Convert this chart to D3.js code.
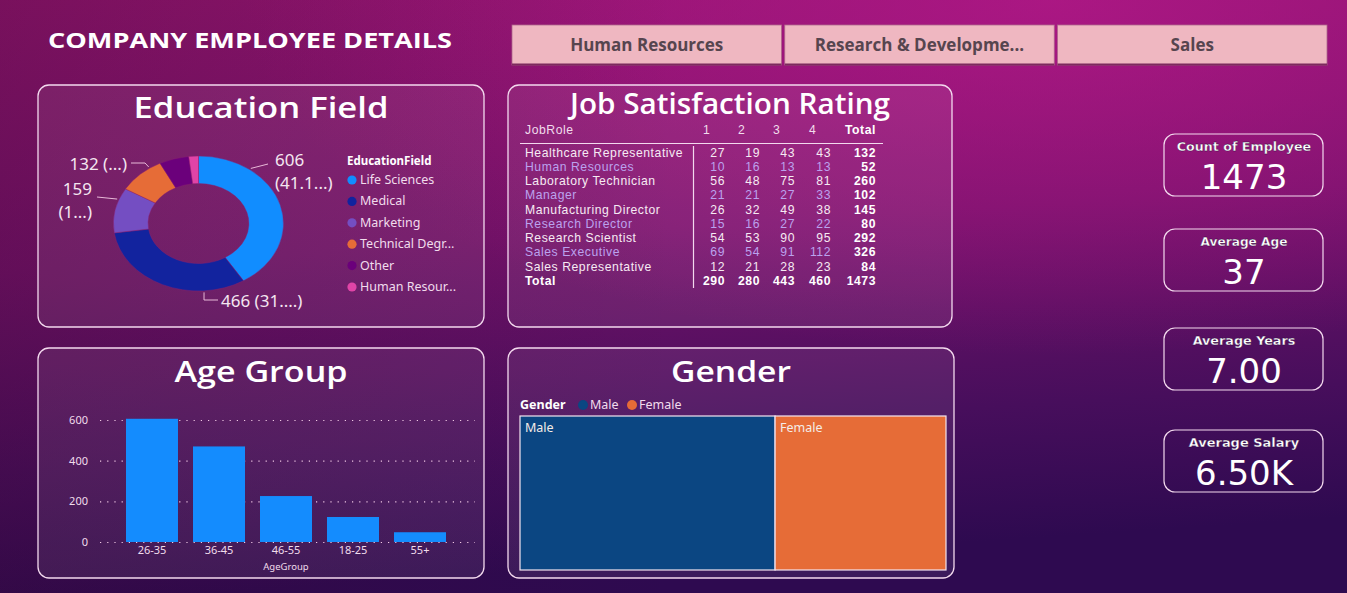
<!DOCTYPE html>
<html>
<head>
<meta charset="utf-8">
<script src="https://cdn.jsdelivr.net/npm/d3@7"></script>
<style>
  html, body { margin: 0; padding: 0; overflow: hidden; }
  svg { display: block; }
</style>
</head>
<body>
<div id="dash"></div>
<script>
// data
var buttons = ["Human Resources", "Research & Developme...", "Sales"];

var eduFields = ["Life Sciences", "Medical", "Marketing", "Technical Degree", "Other", "Human Resources"];
var eduLegend = ["Life Sciences", "Medical", "Marketing", "Technical Degr...", "Other", "Human Resour..."];
var eduCounts = [606, 466, 159, 132, 83, 27];
var eduColors = ["#118dff", "#12239e", "#744ec2", "#e66c37", "#6b007b", "#e044a7"];

var jobRoles = ["Healthcare Representative", "Human Resources", "Laboratory Technician", "Manager",
  "Manufacturing Director", "Research Director", "Research Scientist", "Sales Executive", "Sales Representative"];
var rating1 = [27, 10, 56, 21, 26, 15, 54, 69, 12];
var rating2 = [19, 16, 48, 21, 32, 16, 53, 54, 21];
var rating3 = [43, 13, 75, 27, 49, 27, 90, 91, 28];
var rating4 = [43, 13, 81, 33, 38, 22, 95, 112, 23];
var ratingHeads = ["1", "2", "3", "4", "Total"];

var ageGroups = ["26-35", "36-45", "46-55", "18-25", "55+"];
var ageCounts = [606, 470, 226, 123, 48];
var ageTicks = [0, 200, 400, 600];

var genders = ["Male", "Female"];
var genderCounts = [882, 591];
var genderColors = ["#0b4682", "#e66c37"];

var kpiLabels = ["Count of Employee", "Average Age", "Average Years", "Average Salary"];
var kpiValues = ["1473", "37", "7.00", "6.50K"];

var W = 1347, H = 593;
var titleFont = "'Open Sans', 'Noto Sans', sans-serif";
var bodyFont = "'Noto Sans', 'Open Sans', sans-serif";
var tableFont = "'Liberation Sans', Arial, sans-serif";

var svg = d3.select("#dash").append("svg")
  .attr("width", W)
  .attr("height", H);

var defs = svg.append("defs");

var bg = defs.append("linearGradient").attr("id", "bg")
  .attr("x1", 0).attr("y1", 0).attr("x2", 0.15).attr("y2", 1);
bg.append("stop").attr("offset", "0").attr("stop-color", "#941570");
bg.append("stop").attr("offset", "0.45").attr("stop-color", "#74126a");
bg.append("stop").attr("offset", "0.78").attr("stop-color", "#470e5c");
bg.append("stop").attr("offset", "1").attr("stop-color", "#2e0a50");

var glow = defs.append("radialGradient").attr("id", "glow")
  .attr("cx", 0.78).attr("cy", 0).attr("r", 0.6);
glow.append("stop").attr("offset", "0").attr("stop-color", "#b5188a").attr("stop-opacity", 0.75);
glow.append("stop").attr("offset", "1").attr("stop-color", "#b5188a").attr("stop-opacity", 0);

var shade = defs.append("linearGradient").attr("id", "shade")
  .attr("x1", 0).attr("y1", 0).attr("x2", 1).attr("y2", 0);
shade.append("stop").attr("offset", "0").attr("stop-color", "#3a0630").attr("stop-opacity", 0.3);
shade.append("stop").attr("offset", "0.5").attr("stop-color", "#3a0630").attr("stop-opacity", 0);

svg.append("rect").attr("width", W).attr("height", H).attr("fill", "url(#bg)");
svg.append("rect").attr("width", W).attr("height", H).attr("fill", "url(#glow)");
svg.append("rect").attr("width", W).attr("height", H).attr("fill", "url(#shade)");

// header
svg.append("text")
  .attr("x", 48).attr("y", 48)
  .attr("textLength", 404).attr("lengthAdjust", "spacingAndGlyphs")
  .style("font-family", titleFont).style("font-weight", 700).style("font-size", "22px")
  .attr("fill", "#ffffff")
  .text("COMPANY EMPLOYEE DETAILS");

var btnX = d3.scaleBand().domain(buttons).range([512, 1327]).paddingInner(0.012);
var btn = svg.selectAll(".btn").data(buttons).enter().append("g")
  .attr("class", "btn")
  .attr("transform", function(d) { return "translate(" + btnX(d) + ",25)"; });
btn.append("rect")
  .attr("width", btnX.bandwidth()).attr("height", 40)
  .attr("fill", "#efb7c1").attr("stroke", "#b0668c").attr("stroke-width", 0.8);
btn.append("rect")
  .attr("y", 38.5).attr("width", btnX.bandwidth()).attr("height", 2)
  .attr("fill", "#7d2a5e");
btn.append("text")
  .attr("x", btnX.bandwidth() / 2).attr("y", 26)
  .attr("text-anchor", "middle")
  .style("font-family", titleFont).style("font-weight", 700).style("font-size", "17px")
  .attr("fill", "#56454f")
  .text(function(d) { return d; });

// panels
function panel(x, y, w, h, title, ty, tlen) {
  svg.append("rect")
    .attr("x", x).attr("y", y).attr("width", w).attr("height", h)
    .attr("rx", 11)
    .attr("fill", "#ffffff").attr("fill-opacity", 0.07)
    .attr("stroke", "#f3d9ee").attr("stroke-width", 1.3);
  svg.append("text")
    .attr("x", x + w / 2).attr("y", ty)
    .attr("text-anchor", "middle")
    .attr("textLength", tlen).attr("lengthAdjust", "spacingAndGlyphs")
    .style("font-family", titleFont).style("font-weight", 600).style("font-size", "29px")
    .attr("fill", "#ffffff")
    .text(title);
}
panel(38, 85, 446, 242, "Education Field", 118, 255);
panel(508, 85, 444, 242, "Job Satisfaction Rating", 114, 320);
panel(38, 348, 446, 230, "Age Group", 382, 173);
panel(508, 348, 446, 230, "Gender", 382, 120);

// Education field donut (stretched like the report canvas)
var cx = 198.5, cy = 223.5, sx = 1.26;
var pie = d3.pie().sort(null).value(function(d) { return d; });
var arcs = pie(eduCounts);
var arc = d3.arc().innerRadius(40).outerRadius(67.5);

var donut = svg.append("g")
  .attr("transform", "translate(" + cx + "," + cy + ") scale(" + sx + ",1)");
donut.selectAll("path").data(arcs).enter().append("path")
  .attr("d", arc)
  .attr("fill", function(d, i) { return eduColors[i]; })
  .attr("stroke", "#8a2070").attr("stroke-width", 0.4);

// leader lines and labels for the four largest slices
var total = d3.sum(eduCounts);
function pct(v) { return (v / total * 100).toFixed(1); }
var eduLabels = [
  { i: 0, lines: [String(eduCounts[0]), "(" + pct(eduCounts[0]).slice(0, 4) + "...)"], x: 275, y: 166, anchor: "start", at: 0.25, pts: [[268, 164]] },
  { i: 1, lines: [eduCounts[1] + " (" + pct(eduCounts[1]).slice(0, 2) + "....)"], x: 221, y: 307, anchor: "start", at: 0.248, pts: [[204, 300], [218, 300]] },
  { i: 2, lines: [String(eduCounts[2]), "(" + pct(eduCounts[2]).slice(0, 1) + "...)"], x: 92, y: 195, anchor: "end", at: 0.74, pts: [[97, 197]] },
  { i: 3, lines: [eduCounts[3] + " (...)"], x: 127, y: 170, anchor: "end", at: 0.75, pts: [[145, 163], [131, 163]] }
];
var labelG = svg.append("g");
eduLabels.forEach(function(l) {
  var a = arcs[l.i];
  var ang = a.startAngle + (a.endAngle - a.startAngle) * l.at;
  var r = 69;
  var start = [cx + Math.sin(ang) * r * sx, cy - Math.cos(ang) * r];
  labelG.append("path")
    .attr("d", d3.line()([start].concat(l.pts)))
    .attr("fill", "none").attr("stroke", "#e8b9d8").attr("stroke-width", 1);
  var t = labelG.append("text")
    .attr("text-anchor", l.anchor)
    .style("font-family", bodyFont).style("font-size", "17px")
    .attr("fill", "#f4e6f0");
  l.lines.forEach(function(s, k) {
    t.append("tspan").attr("x", l.x).attr("y", l.y + k * 23).text(s);
  });
});

var legY = d3.scalePoint().domain(eduFields).range([180, 287]);
svg.append("text")
  .attr("x", 347).attr("y", 165)
  .style("font-family", bodyFont).style("font-weight", 700).style("font-size", "11.5px")
  .attr("fill", "#ffffff").text("EducationField");
var leg = svg.selectAll(".eleg").data(eduFields).enter().append("g")
  .attr("class", "eleg")
  .attr("transform", function(d) { return "translate(352," + legY(d) + ")"; });
leg.append("circle").attr("r", 4.6)
  .attr("fill", function(d, i) { return eduColors[i]; });
leg.append("text").attr("x", 8).attr("y", 4)
  .style("font-family", bodyFont).style("font-size", "12.5px")
  .attr("fill", "#f1dcec")
  .text(function(d, i) { return eduLegend[i]; });

// Job satisfaction matrix
var rows = jobRoles.map(function(r, i) {
  var v = [rating1[i], rating2[i], rating3[i], rating4[i]];
  return { role: r, vals: v.concat([d3.sum(v)]), total: false };
});
var colTotals = [rating1, rating2, rating3, rating4].map(function(a) { return d3.sum(a); });
rows.push({ role: "Total", vals: colTotals.concat([d3.sum(colTotals)]), total: true });

var colRight = [725, 760, 795, 831, 876];
var rowY = d3.scaleLinear().domain([0, rows.length - 1]).range([156.5, 285]);
var tbl = svg.append("g").style("font-family", tableFont).style("font-size", "12.2px")
  .style("letter-spacing", "0.55px");

tbl.append("text").attr("x", 525).attr("y", 134).attr("fill", "#f1dcec").text("JobRole");
tbl.selectAll(".hd").data(ratingHeads).enter().append("text")
  .attr("x", function(d, i) { return i < 4 ? colRight[i] - 22 : colRight[i]; })
  .attr("y", 134)
  .attr("text-anchor", function(d, i) { return i < 4 ? "start" : "end"; })
  .style("font-weight", function(d, i) { return i === 4 ? 700 : 400; })
  .attr("fill", function(d, i) { return i === 4 ? "#ffffff" : "#f1dcec"; })
  .text(function(d) { return d; });
tbl.append("line").attr("x1", 520).attr("x2", 883).attr("y1", 143.5).attr("y2", 143.5)
  .attr("stroke", "#f3d9ee").attr("stroke-width", 1.2);
tbl.append("line").attr("x1", 693.5).attr("x2", 693.5).attr("y1", 146).attr("y2", 288)
  .attr("stroke", "#f3d9ee").attr("stroke-width", 1.2);

var row = tbl.selectAll(".row").data(rows).enter().append("g")
  .attr("class", "row")
  .attr("transform", function(d, i) { return "translate(0," + rowY(i) + ")"; })
  .attr("fill", function(d, i) { return d.total ? "#ffffff" : (i % 2 ? "#bba2ee" : "#f6eaf3"); })
  .style("font-weight", function(d) { return d.total ? 700 : 400; });
row.append("text").attr("x", 525).text(function(d) { return d.role; });
row.selectAll(".v").data(function(d) { return d.vals; }).enter().append("text")
  .attr("x", function(d, i) { return colRight[i]; })
  .attr("text-anchor", "end")
  .style("font-weight", function(d, i) { return (i === 4 || d3.select(this.parentNode).datum().total) ? 700 : null; })
  .attr("fill", function(d, i) { return i === 4 ? "#ffffff" : null; })
  .text(function(d) { return d; });

// Age group bars
var x = d3.scaleBand().domain(ageGroups).range([126, 446]).paddingInner(0.224).paddingOuter(0);
var y = d3.scaleLinear().domain([0, 600]).range([542, 420]);
var ag = svg.append("g");
ag.append("g")
  .attr("transform", "translate(100,0)")
  .call(d3.axisLeft(y).tickValues(ageTicks).tickSize(-375).tickPadding(12))
  .call(function(g) {
    g.select(".domain").remove();
    g.selectAll(".tick line").attr("stroke", "#f0c8e4").attr("stroke-dasharray", "1.2,6").attr("stroke-width", 1.2);
    g.selectAll(".tick text").attr("fill", "#f1dcec").style("font-family", bodyFont).style("font-size", "11px");
  });
ag.selectAll(".bar").data(ageCounts).enter().append("rect")
  .attr("class", "bar")
  .attr("x", function(d, i) { return x(ageGroups[i]); })
  .attr("width", x.bandwidth())
  .attr("y", function(d) { return y(d); })
  .attr("height", function(d) { return y(0) - y(d); })
  .attr("fill", "#148cfe");
ag.append("g")
  .attr("transform", "translate(0,542)")
  .call(d3.axisBottom(x).tickSize(0).tickPadding(4))
  .call(function(g) {
    g.select(".domain").remove();
    g.selectAll(".tick text").attr("fill", "#f1dcec").style("font-family", bodyFont).style("font-size", "11px");
  });
ag.append("text")
  .attr("x", 286).attr("y", 570).attr("text-anchor", "middle")
  .style("font-family", bodyFont).style("font-size", "9.5px")
  .attr("fill", "#f1dcec").text("AgeGroup");

// Gender treemap
var gl = svg.append("g").style("font-family", bodyFont).style("font-size", "12.5px");
gl.append("text").attr("x", 520).attr("y", 409).style("font-weight", 700).attr("fill", "#ffffff").text("Gender");
var glx = [583, 632];
genders.forEach(function(g, i) {
  gl.append("circle").attr("cx", glx[i]).attr("cy", 405).attr("r", 5).attr("fill", genderColors[i]);
  gl.append("text").attr("x", glx[i] + 7).attr("y", 409).attr("fill", "#f1dcec").text(g);
});

var root = d3.hierarchy({ children: genders.map(function(g, i) { return { name: g, value: genderCounts[i], color: genderColors[i] }; }) })
  .sum(function(d) { return d.value || 0; });
d3.treemap().size([426, 154]).tile(d3.treemapSquarify)(root);
var tm = svg.append("g").attr("transform", "translate(520,416)");
var leaf = tm.selectAll(".leaf").data(root.leaves()).enter().append("g")
  .attr("class", "leaf");
leaf.append("rect")
  .attr("x", function(d) { return d.x0; }).attr("y", function(d) { return d.y0; })
  .attr("width", function(d) { return d.x1 - d.x0; }).attr("height", function(d) { return d.y1 - d.y0; })
  .attr("fill", function(d) { return d.data.color; })
  .attr("stroke", "#f4e4f0").attr("stroke-width", 1.2);
leaf.append("text")
  .attr("x", function(d) { return d.x0 + 5; }).attr("y", function(d) { return d.y0 + 16; })
  .style("font-family", bodyFont).style("font-size", "12.5px")
  .attr("fill", "#f4ece8")
  .text(function(d) { return d.data.name; });

// KPI cards
var cardY = [134, 229, 328, 430];
var card = svg.selectAll(".kpi").data(kpiLabels).enter().append("g")
  .attr("class", "kpi")
  .attr("transform", function(d, i) { return "translate(1164," + cardY[i] + ")"; });
card.append("rect")
  .attr("width", 159).attr("height", 62).attr("rx", 11)
  .attr("fill", "none").attr("stroke", "#f3d9ee").attr("stroke-width", 1.2);
card.append("text")
  .attr("x", 80).attr("y", 17).attr("text-anchor", "middle")
  .attr("textLength", function(d) { return d.length * 7.9; }).attr("lengthAdjust", "spacingAndGlyphs")
  .style("font-family", "'DejaVu Sans', sans-serif").style("font-weight", 700).style("font-size", "12.5px")
  .attr("fill", "#ffffff").attr("stroke", "#2a0a3a").attr("stroke-width", 0.3)
  .text(function(d) { return d; });
card.append("text")
  .attr("x", 80).attr("y", 55).attr("text-anchor", "middle")
  .style("font-family", "'DejaVu Sans', sans-serif").style("font-size", "34px")
  .attr("fill", "#ffffff")
  .text(function(d, i) { return kpiValues[i]; });
</script>
</body>
</html>
